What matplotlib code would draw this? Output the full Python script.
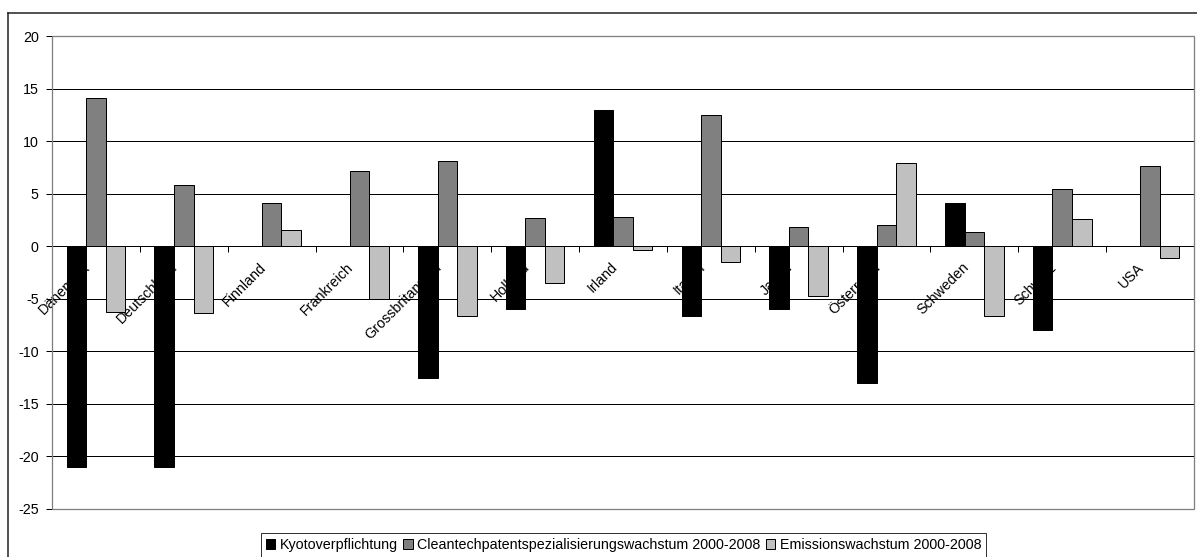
import matplotlib.pyplot as plt
import matplotlib.transforms as mtransforms
from matplotlib.patches import Rectangle
import numpy as np

plt.rcParams['font.family'] = ['Liberation Sans', 'DejaVu Sans']
plt.rcParams['axes.unicode_minus'] = False

laender = ['Dänemark', 'Deutschland', 'Finnland', 'Frankreich', 'Grossbritannien',
           'Holland', 'Irland', 'Italien', 'Japan', 'Österreich', 'Schweden',
           'Schweiz', 'USA']
kyoto = [-21.0, -21.0, 0.0, 0.0, -12.5, -6.0, 13.0, -6.6, -6.0, -13.0, 4.1, -8.0, 0.0]
cleantech = [14.1, 5.8, 4.1, 7.2, 8.1, 2.7, 2.8, 12.5, 1.8, 2.0, 1.4, 5.4, 7.6]
emission = [-6.3, -6.4, 1.5, -5.0, -6.6, -3.5, -0.4, -1.5, -4.7, 7.9, -6.6, 2.6, -1.1]
serien = ['Kyotoverpflichtung', 'Cleantechpatentspezialisierungswachstum 2000-2008',
          'Emissionswachstum 2000-2008']
farben = ['#000000', '#808080', '#c0c0c0']

W, H = 1197, 557
fs = 10.3
fig = plt.figure(figsize=(W / 100, H / 100), dpi=100)
ax = fig.add_axes([52 / W, (H - 509) / H, (1194 - 52) / W, (509 - 36) / H])

x = np.arange(len(laender))
bw = 1 / 4.5
px = 0.72
for k, (werte, name, farbe) in enumerate(zip([kyoto, cleantech, emission], serien, farben)):
    ax.bar(x + (k - 1) * bw, werte, width=bw, color=farbe, edgecolor='black',
           linewidth=px, label=name, zorder=1)

ax.set_xlim(-0.5, len(laender) - 0.5)
ax.set_ylim(-25, 20)
ax.set_yticks(np.arange(-25, 21, 5))
ax.set_axisbelow(True)
ax.grid(axis='y', color='black', linewidth=px)

# x axis sits on zero, tick marks between the categories
ax.spines['bottom'].set_position(('data', 0))
ax.spines['bottom'].set_linewidth(px)
ax.spines['left'].set_linewidth(px)
ax.spines['top'].set_visible(False)
ax.spines['right'].set_visible(False)
ax.set_xticks(x)
ax.set_xticklabels(laender, rotation=45, ha='right', fontsize=fs)
ax.set_xticks(np.arange(-0.5, len(laender), 1), minor=True)
ax.tick_params(axis='x', which='major', length=0, pad=10)
ax.tick_params(axis='x', which='minor', length=4, width=px, direction='out')
ax.tick_params(axis='y', length=4, width=px, labelsize=fs, pad=5.5)
shift = mtransforms.ScaledTranslation(-3 / 100, 0, fig.dpi_scale_trans)
for lab in ax.get_xticklabels():
    lab.set_transform(lab.get_transform() + shift)

ax.add_patch(Rectangle((0, 0), 1, 1, transform=ax.transAxes, fill=False,
                       edgecolor='#808080', linewidth=px * 1.3, zorder=3, clip_on=False))

# outer chart frame
fig.add_artist(plt.Line2D([8 / W, 1], [(H - 13) / H] * 2, color='#222222', linewidth=1.1))
fig.add_artist(plt.Line2D([8 / W] * 2, [(H - 13) / H, 0], color='#222222', linewidth=1.1))

leg = fig.legend(loc='upper center', bbox_to_anchor=(623.5 / W, (H - 533) / H), ncol=3,
                 fontsize=fs, frameon=True, fancybox=False, edgecolor='black',
                 handlelength=0.65, handleheight=0.65, handletextpad=0.3,
                 columnspacing=0.4, borderpad=0.35, borderaxespad=0)
leg.get_frame().set_linewidth(px)

fig.savefig('out.png', dpi=100)
